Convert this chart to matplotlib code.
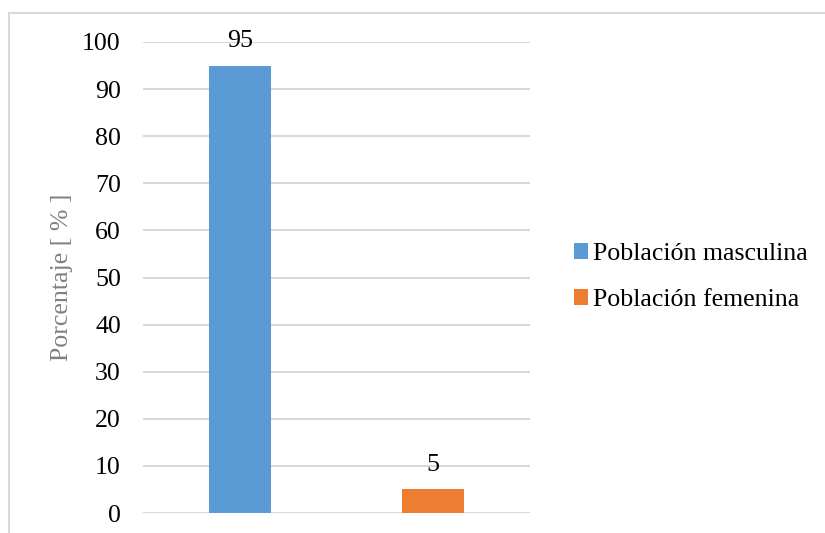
import matplotlib
matplotlib.use("Agg")
import matplotlib.pyplot as plt
from matplotlib.lines import Line2D
from matplotlib.patches import Patch

categories = ["Población masculina", "Población femenina"]
values = [95, 5]
colors = ["#5B9BD5", "#ED7D31"]
yticks = [0, 10, 20, 30, 40, 50, 60, 70, 80, 90, 100]

plt.rcParams["font.family"] = ["Liberation Serif", "DejaVu Serif"]
FS = 18.6

fig = plt.figure(figsize=(8.25, 5.33), dpi=100)
ax = fig.add_axes([143 / 825, 1 - 513 / 533, (530 - 143) / 825, (513 - 42) / 533])

positions = list(range(len(values)))
bars = ax.bar(positions, values, width=0.32, color=colors, zorder=3)

for x, v in zip(positions, values):
    ax.annotate(f"{v}", (x, v), xytext=(0, 10), textcoords="offset points",
                ha="center", va="bottom", fontsize=FS, color="#000000")

ax.set_xlim(-0.5, 1.5)
ax.set_ylim(0, 100)
ax.set_yticks(yticks)
ax.set_yticklabels([str(t) for t in yticks], fontsize=FS)
ax.set_xticks([])
ax.tick_params(axis="y", length=0, pad=16)
ax.grid(axis="y", color="#D9D9D9", linewidth=1.5, zorder=0)
for s in ax.spines.values():
    s.set_visible(False)

ax.set_ylabel("Porcentaje [ % ]", fontsize=FS, color="#808080")
ax.yaxis.set_label_coords(-(143 - 73) / 387, 0.5)

handles = [Patch(facecolor=c, edgecolor="none") for c in colors]
fig.legend(handles, categories, loc="center left", bbox_to_anchor=(0.683, 0.480),
           frameon=False, fontsize=FS, handlelength=0.55, handleheight=0.55,
           handletextpad=0.18, labelspacing=0.93, borderaxespad=0)

# outer chart border (top and left edges)
fig.add_artist(Line2D([9 / 825, 1.0], [1 - 13 / 533, 1 - 13 / 533],
                      transform=fig.transFigure, color="#D9D9D9", linewidth=1.5))
fig.add_artist(Line2D([9 / 825, 9 / 825], [0, 1 - 13 / 533],
                      transform=fig.transFigure, color="#D9D9D9", linewidth=1.5))

fig.savefig("out.png", dpi=100, facecolor="white")
